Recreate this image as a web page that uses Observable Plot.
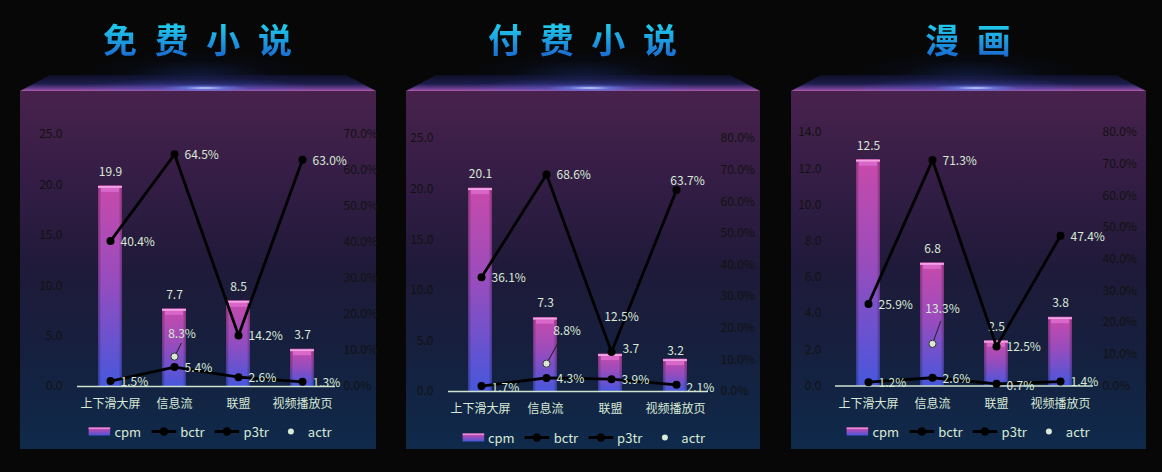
<!DOCTYPE html>
<html>
<head>
<meta charset="utf-8">
<script src="https://cdn.jsdelivr.net/npm/d3@7"></script>
<script src="https://cdn.jsdelivr.net/npm/@observablehq/plot@0.6"></script>
<style>
  html, body { margin: 0; padding: 0; }
  body { width: 1162px; height: 472px; background: #070707; position: relative; overflow: hidden;
         font-family: "Noto Sans CJK SC", "Noto Sans", sans-serif; }
  .wrap { position: absolute; top: 0; height: 472px; }
  .title { position: absolute; top: 14px; left: 2px; width: 100%; text-align: center; font-size: 34px; font-weight: 700;
           letter-spacing: 5px; line-height: 50px; white-space: pre;
           background: linear-gradient(to bottom, #1fc6ea 25%, #1a74d6 80%);
           -webkit-background-clip: text; background-clip: text; color: transparent; }
  .glow { position: absolute; top: 48px; height: 30px; left: 15%; width: 70%;
          background: radial-gradient(ellipse 50% 100% at 50% 100%, rgba(40,80,200,0.28), rgba(20,40,120,0.08) 60%, rgba(0,0,0,0) 100%); }
  .trap { position: absolute; top: 75px; height: 16px; left: 0; width: 100%; }
  .spot { position: absolute; top: 85px; height: 6px; width: 90px;
          background: radial-gradient(ellipse 50% 50% at 50% 50%, rgba(235,240,255,0.9), rgba(110,150,255,0.5) 45%, rgba(60,90,220,0) 100%); }
  .panel { position: absolute; top: 91px; height: 358px; left: 0; width: 100%;
           background: linear-gradient(to bottom, #48224c 0%, #341d45 25%, #1f1a39 50%, #15203f 75%, #0f2a4b 100%); }
  .panel svg.plot { position: absolute; left: 0; top: 0; }
  .legend { position: absolute; display: flex; align-items: center; gap: 10px; transform: translate(-50%, -50%);
            font-size: 13px; color: #d8ead6; white-space: nowrap; }
  .legend .it { display: flex; align-items: center; gap: 4px; }
  .legend svg { display: block; }
</style>
</head>
<body>
<svg width="0" height="0" style="position:absolute">
  <defs>
    <linearGradient id="barGrad" x1="0" y1="0" x2="0" y2="1">
      <stop offset="0" stop-color="#c84aaa"/>
      <stop offset="0.45" stop-color="#9a4cbc"/>
      <stop offset="1" stop-color="#4757dc"/>
    </linearGradient>
    <linearGradient id="barSide" x1="0" y1="0" x2="1" y2="0">
      <stop offset="0" stop-color="#000" stop-opacity="0.32"/>
      <stop offset="0.14" stop-color="#000" stop-opacity="0"/>
      <stop offset="0.86" stop-color="#000" stop-opacity="0"/>
      <stop offset="1" stop-color="#000" stop-opacity="0.32"/>
    </linearGradient>
  </defs>
</svg>
<script>
// ---------- data ----------
const categories = ["上下滑大屏", "信息流", "联盟", "视频播放页"];
const titles = ["免 费 小 说", "付 费 小 说", "漫 画"];
const legendLabels = ["cpm", "bctr", "p3tr", "actr"];

const cpm1  = [19.9, 7.7, 8.5, 3.7];
const bctr1 = [1.5, 5.4, 2.6, 1.3];
const p3tr1 = [40.4, 64.5, 14.2, 63.0];
const actr1 = [null, 8.3, null, null];
const leftTicks1  = [0, 5, 10, 15, 20, 25];
const rightTicks1 = [0, 10, 20, 30, 40, 50, 60, 70];

const cpm2  = [20.1, 7.3, 3.7, 3.2];
const bctr2 = [1.7, 4.3, 3.9, 2.1];
const p3tr2 = [36.1, 68.6, 12.5, 63.7];
const actr2 = [null, 8.8, null, null];
const leftTicks2  = [0, 5, 10, 15, 20, 25];
const rightTicks2 = [0, 10, 20, 30, 40, 50, 60, 70, 80];

const cpm3  = [12.5, 6.8, 2.5, 3.8];
const bctr3 = [1.2, 2.6, 0.7, 1.4];
const p3tr3 = [25.9, 71.3, 12.5, 47.4];
const actr3 = [null, 13.3, null, null];
const leftTicks3  = [0, 2, 4, 6, 8, 10, 12, 14];
const rightTicks3 = [0, 10, 20, 30, 40, 50, 60, 70, 80];

const cpmS = [cpm1, cpm2, cpm3];
const bctrS = [bctr1, bctr2, bctr3];
const p3trS = [p3tr1, p3tr2, p3tr3];
const actrS = [actr1, actr2, actr3];
const leftTicksS = [leftTicks1, leftTicks2, leftTicks3];
const rightTicksS = [rightTicks1, rightTicks2, rightTicks3];

// ---------- layout / style ----------
const PALE = "#d8ead6";
const AXIS = "#121212";
const layout = [
  {left: 20,  width: 356, mt: 43, bottom: 295,   ml: 57, mr: 41, lp: 15, rp: 8,  legendX: 190,   legendY: 340,
   actr: {dx: 7.5, dy: -22, len: 15, rot: 27}, over: {}},
  {left: 406, width: 354, mt: 47, bottom: 300,   ml: 42, mr: 52, lp: 15, rp: 12, legendX: 177.5, legendY: 346,
   actr: {dx: 20.5, dy: -33, len: 28, rot: 29},
   over: {cpm2: {dx: 12, dy: -5, a: "start"}, cpm3: {dy: -8}, p3tr2: {dx: 10, dy: -35, a: "middle"},
          p3tr3: {dx: 11, dy: -9, a: "middle"}, bctr0: {dy: 2}, bctr3: {dy: 3}}},
  {left: 791, width: 355, mt: 41, bottom: 294.5, ml: 44, mr: 53, lp: 14, rp: 9,  legendX: 177,   legendY: 340,
   actr: {dx: 10, dy: -35, len: 24, rot: 20}, over: {bctr2: {dy: 2}}}
];

const baseStyle = {background: "transparent", fontFamily: "'Noto Sans CJK SC', 'Noto Sans', sans-serif", fontSize: "12px", overflow: "visible"};

function labelMarks(rows, key, fmt, def, over) {
  return rows.map((r, j) => {
    const o = Object.assign({}, def, over[key + j] || {});
    return Plot.text([r], {x: "cat", y: key, text: d => fmt(d[key]), dx: o.dx, dy: o.dy, textAnchor: o.a,
                           fill: PALE, fontSize: 12});
  });
}

function buildPanel(i) {
  const L = layout[i];
  const wrap = document.createElement("div");
  wrap.className = "wrap";
  wrap.style.left = L.left + "px";
  wrap.style.width = L.width + "px";
  document.body.appendChild(wrap);

  const title = document.createElement("div");
  title.className = "title";
  title.textContent = titles[i];
  wrap.appendChild(title);

  const glow = document.createElement("div"); glow.className = "glow"; wrap.appendChild(glow);
  const trap = document.createElement("div"); trap.className = "trap";
  trap.style.clipPath = `polygon(30px 0, ${L.width - 30}px 0, 100% 100%, 0 100%)`;
  trap.style.background =
    "radial-gradient(ellipse 45% 120% at 50% 100%, rgba(70,100,230,0.45), rgba(0,0,0,0) 75%)," +
    "linear-gradient(to bottom, rgba(18,22,60,0.55) 0%, rgba(36,36,100,0.75) 55%, #6a3f92 85%, #b25aa8 100%)";
  wrap.appendChild(trap);
  const spot = document.createElement("div"); spot.className = "spot";
  spot.style.left = (L.width / 2 - 38) + "px";
  wrap.appendChild(spot);

  const panel = document.createElement("div"); panel.className = "panel"; wrap.appendChild(panel);

  const H = Math.round(L.bottom + 36);
  const rows = categories.map((c, j) => ({cat: c, cpm: cpmS[i][j], bctr: bctrS[i][j], p3tr: p3trS[i][j], actr: actrS[i][j]}));
  const actrRows = rows.filter(d => d.actr != null);
  const lt = leftTicksS[i], rt = rightTicksS[i];
  const common = {width: L.width, height: H, marginLeft: L.ml, marginRight: L.mr, marginTop: L.mt,
                  marginBottom: H - L.bottom, style: baseStyle};
  const xs = {domain: categories, paddingInner: 0.63, paddingOuter: 0.315};

  const barPlot = Plot.plot({
    ...common,
    x: {...xs, label: null},
    y: {domain: [0, lt[lt.length - 1]], label: null},
    marks: [
      Plot.axisY({anchor: "left", ticks: lt, tickFormat: d => d.toFixed(1), tickSize: 0, tickPadding: L.lp,
                  color: AXIS, fontSize: 12, label: null}),
      Plot.axisX({anchor: "bottom", tickSize: 0, tickPadding: 13, color: PALE, fontSize: 12, label: null}),
      Plot.barY(rows, {x: "cat", y: "cpm", fill: "url(#barGrad)"}),
      Plot.barY(rows, {x: "cat", y: "cpm", fill: "url(#barSide)"}),
      Plot.tickY(rows, {x: "cat", y: "cpm", stroke: "#d867c9", strokeWidth: 4, dy: 4, insetLeft: 3, insetRight: 3}),
      Plot.tickY(rows, {x: "cat", y: "cpm", stroke: "#f3a2e6", strokeWidth: 2, dy: 1}),
      Plot.ruleY([0], {stroke: "#cfe3cf", strokeWidth: 1.5}),
      ...labelMarks(rows, "cpm", v => v.toFixed(1), {dx: 0, dy: -14, a: "middle"}, L.over)
    ]
  });
  barPlot.classList.add("plot");
  panel.appendChild(barPlot);

  const pct = v => v.toFixed(1) + "%";
  const linePlot = Plot.plot({
    ...common,
    x: {...xs, axis: null},
    y: {domain: [0, rt[rt.length - 1]], label: null},
    marks: [
      Plot.axisY({anchor: "right", ticks: rt, tickFormat: d => d.toFixed(1) + "%", tickSize: 0, tickPadding: L.rp,
                  color: AXIS, fontSize: 12, label: null}),
      Plot.line(rows, {x: "cat", y: "bctr", stroke: "#000", strokeWidth: 2.8}),
      Plot.dot(rows, {x: "cat", y: "bctr", fill: "#000", r: 4}),
      Plot.line(rows, {x: "cat", y: "p3tr", stroke: "#000", strokeWidth: 2.8}),
      Plot.dot(rows, {x: "cat", y: "p3tr", fill: "#000", r: 4}),
      Plot.vector(actrRows, {x: "cat", y: "actr", length: L.actr.len, rotate: L.actr.rot, anchor: "start",
                             shape: "arrow", r: 0, stroke: "#222", strokeWidth: 1}),
      Plot.dot(actrRows, {x: "cat", y: "actr", fill: PALE, stroke: "#333", strokeWidth: 1, r: 3.6}),
      Plot.text(actrRows, {x: "cat", y: "actr", text: d => pct(d.actr), dx: L.actr.dx, dy: L.actr.dy,
                           fill: PALE, fontSize: 12}),
      ...labelMarks(rows, "bctr", pct, {dx: 10, dy: 1, a: "start"}, L.over),
      ...labelMarks(rows, "p3tr", pct, {dx: 10, dy: 1, a: "start"}, L.over)
    ]
  });
  linePlot.classList.add("plot");
  panel.appendChild(linePlot);

  // legend
  const lg = document.createElement("div");
  lg.className = "legend";
  lg.style.left = L.legendX + "px";
  lg.style.top = L.legendY + "px";
  const icons = [
    `<svg width="22" height="14"><rect x="0" y="3" width="22" height="8" fill="url(#barGrad)"/><rect x="0" y="3" width="22" height="1.6" fill="#e98ad8"/></svg>`,
    `<svg width="25" height="14"><line x1="0" y1="7" x2="25" y2="7" stroke="#000" stroke-width="2.8"/><circle cx="12.5" cy="7" r="4.2" fill="#000"/></svg>`,
    `<svg width="25" height="14"><line x1="0" y1="7" x2="25" y2="7" stroke="#000" stroke-width="2.8"/><circle cx="12.5" cy="7" r="4.2" fill="#000"/></svg>`,
    `<svg width="25" height="14"><circle cx="12.5" cy="7" r="3" fill="${PALE}"/></svg>`
  ];
  legendLabels.forEach((name, k) => {
    const it = document.createElement("div");
    it.className = "it";
    it.innerHTML = icons[k] + `<span>${name}</span>`;
    lg.appendChild(it);
  });
  panel.appendChild(lg);
}

[0, 1, 2].forEach(buildPanel);
</script>
</body>
</html>
